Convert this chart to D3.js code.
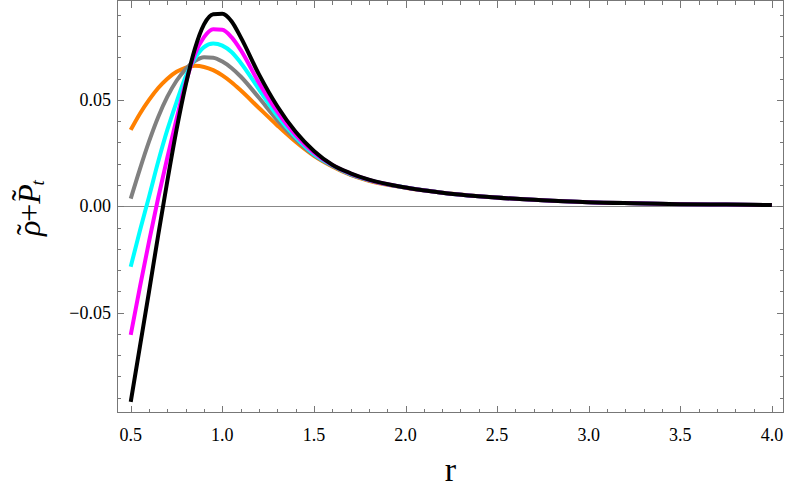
<!DOCTYPE html>
<html>
<head>
<meta charset="utf-8">
<script src="https://cdn.jsdelivr.net/npm/d3@7"></script>
<style>
  body { margin: 0; background: #fff; }
</style>
</head>
<body>
<script>
// sample points along r
var rVals = [0.5, 0.55, 0.6, 0.65, 0.7, 0.75, 0.8, 0.85, 0.9, 0.95, 1.0, 1.05, 1.1, 1.2, 1.3, 1.4, 1.5, 1.6, 1.7, 1.8, 2.0, 2.2, 2.4, 2.6, 2.8, 3.0, 3.25, 3.5, 3.75, 4.0];

var orangeVals  = [0.0359, 0.0435, 0.0500, 0.0556, 0.0600, 0.0632, 0.0652, 0.0660, 0.0655, 0.0640, 0.0615, 0.0583, 0.0545, 0.0462, 0.0380, 0.0303, 0.0237, 0.0187, 0.0147, 0.0120, 0.0087, 0.0064, 0.0047, 0.0035, 0.0026, 0.0019, 0.0014, 0.0010, 0.0008, 0.0006];
var grayVals    = [0.0036, 0.0175, 0.0305, 0.0420, 0.0515, 0.0590, 0.0645, 0.0683, 0.0701, 0.0698, 0.0680, 0.0650, 0.0610, 0.0510, 0.0405, 0.0315, 0.0240, 0.0190, 0.0149, 0.0122, 0.0088, 0.0064, 0.0047, 0.0035, 0.0026, 0.0019, 0.0014, 0.0010, 0.0008, 0.0006];
var cyanVals    = [-0.0284, -0.0115, 0.0045, 0.0210, 0.0360, 0.0490, 0.0610, 0.0695, 0.0748, 0.0765, 0.0755, 0.0725, 0.0675, 0.0550, 0.0425, 0.0325, 0.0245, 0.0192, 0.0151, 0.0123, 0.0088, 0.0064, 0.0047, 0.0035, 0.0026, 0.0019, 0.0014, 0.0010, 0.0008, 0.0006];
var magentaVals = [-0.0605, -0.0380, -0.0165, 0.0040, 0.0230, 0.0410, 0.0580, 0.0715, 0.0795, 0.0832, 0.0830, 0.0795, 0.0735, 0.0580, 0.0445, 0.0335, 0.0252, 0.0194, 0.0153, 0.0124, 0.0088, 0.0064, 0.0047, 0.0035, 0.0026, 0.0019, 0.0014, 0.0010, 0.0008, 0.0006];
var blackVals   = [-0.0920, -0.0660, -0.0400, -0.0135, 0.0120, 0.0360, 0.0570, 0.0740, 0.0855, 0.0903, 0.0905, 0.0870, 0.0795, 0.0620, 0.0470, 0.0350, 0.0260, 0.0195, 0.0155, 0.0125, 0.0088, 0.0064, 0.0047, 0.0035, 0.0026, 0.0019, 0.0014, 0.0010, 0.0008, 0.0006];

var seriesColors = ["#ff8000", "#808080", "#00ffff", "#ff00ff", "#000000"];
var xTickVals = [0.5, 1.0, 1.5, 2.0, 2.5, 3.0, 3.5, 4.0];
var yTickVals = [-0.05, 0.0, 0.05];

var width = 789, height = 498;
var plot = { left: 117, right: 784, top: 1, bottom: 413 };
var serif = "'Liberation Serif', 'Times New Roman', serif";

var svg = d3.select("body")
    .append("svg")
    .attr("width", width)
    .attr("height", height)
    .attr("font-family", serif);

var x = d3.scaleLinear()
    .domain([0.425, 4.066])
    .range([plot.left, plot.right]);

var y = d3.scaleLinear()
    .domain([-0.0972, 0.0965])
    .range([plot.bottom, plot.top]);

svg.append("clipPath").attr("id", "clip")
    .append("rect")
    .attr("x", plot.left).attr("y", plot.top)
    .attr("width", plot.right - plot.left)
    .attr("height", plot.bottom - plot.top);

// zero line
svg.append("line")
    .attr("x1", plot.left).attr("x2", plot.right)
    .attr("y1", Math.round(y(0)) + 0.5).attr("y2", Math.round(y(0)) + 0.5)
    .attr("stroke", "#888").attr("stroke-width", 1);

var line = d3.line()
    .x(function(d) { return x(d[0]); })
    .y(function(d) { return y(d[1]); })
    .curve(d3.curveMonotoneX);

var allSeries = [orangeVals, grayVals, cyanVals, magentaVals, blackVals];

svg.append("g")
    .attr("clip-path", "url(#clip)")
    .selectAll("path")
    .data(allSeries)
    .enter().append("path")
    .attr("fill", "none")
    .attr("stroke", function(d, i) { return seriesColors[i]; })
    .attr("stroke-width", 4)
    .attr("stroke-linejoin", "round")
    .attr("d", function(vals) { return line(rVals.map(function(r, i) { return [r, vals[i]]; })); });

// frame ticks, drawn inward on all four sides
var frameColor = "#777";
var xMinor = d3.range(5, 41).map(function(k) { return k / 10; });
var yMinor = d3.range(-9, 10).map(function(k) { return k / 100; });

function isMajor(v, majors) {
    return majors.some(function(m) { return Math.abs(m - v) < 1e-9; });
}

var ticks = svg.append("g").attr("stroke", frameColor).attr("stroke-width", 1);
xMinor.forEach(function(v) {
    var len = isMajor(v, xTickVals) ? 7 : 4;
    var px = Math.round(x(v)) + 0.5;
    ticks.append("line").attr("x1", px).attr("x2", px).attr("y1", plot.bottom).attr("y2", plot.bottom - len);
    ticks.append("line").attr("x1", px).attr("x2", px).attr("y1", plot.top).attr("y2", plot.top + len);
});
yMinor.forEach(function(v) {
    var len = isMajor(v, yTickVals) ? 7 : 4;
    var py = Math.round(y(v)) + 0.5;
    ticks.append("line").attr("x1", plot.left).attr("x2", plot.left + len).attr("y1", py).attr("y2", py);
    ticks.append("line").attr("x1", plot.right).attr("x2", plot.right - len).attr("y1", py).attr("y2", py);
});

svg.append("rect")
    .attr("x", plot.left + 0.5).attr("y", plot.top - 0.5)
    .attr("width", plot.right - plot.left - 1)
    .attr("height", plot.bottom - plot.top)
    .attr("fill", "none")
    .attr("stroke", frameColor)
    .attr("stroke-width", 1);

// tick labels
svg.append("g").selectAll("text")
    .data(xTickVals)
    .enter().append("text")
    .attr("x", function(d) { return x(d); })
    .attr("y", 441)
    .attr("text-anchor", "middle")
    .attr("font-size", 18)
    .text(function(d) { return d3.format(".1f")(d); });

svg.append("g").selectAll("text")
    .data(yTickVals)
    .enter().append("text")
    .attr("x", plot.left - 6)
    .attr("y", function(d) { return y(d); })
    .attr("dy", "0.33em")
    .attr("text-anchor", "end")
    .attr("font-size", 18)
    .text(function(d) { return d3.format(".2f")(d).replace("-", "\u2212"); });

// axis labels
svg.append("text")
    .attr("x", (plot.left + plot.right) / 2)
    .attr("y", 481)
    .attr("text-anchor", "middle")
    .attr("font-size", 34)
    .text("r");

// y label: rho-tilde + P-tilde_t, tildes placed as separate glyphs
var ylab = svg.append("text")
    .attr("transform", "translate(40,208) rotate(-90)")
    .attr("text-anchor", "middle")
    .attr("font-size", 32);
ylab.append("tspan").attr("font-style", "italic").text("\u03c1");
ylab.append("tspan").attr("dx", "-0.45em").attr("dy", "-0.05em").text("\u02dc");
ylab.append("tspan").attr("dx", "0.08em").attr("dy", "0.05em").text("+");
ylab.append("tspan").attr("font-style", "italic").text("P");
ylab.append("tspan").attr("dx", "-0.52em").attr("dy", "-0.22em").text("\u02dc");
ylab.append("tspan").attr("font-style", "italic").attr("font-size", 19).attr("dx", "0.25em").attr("dy", "0.6em").text("t");
</script>
</body>
</html>
